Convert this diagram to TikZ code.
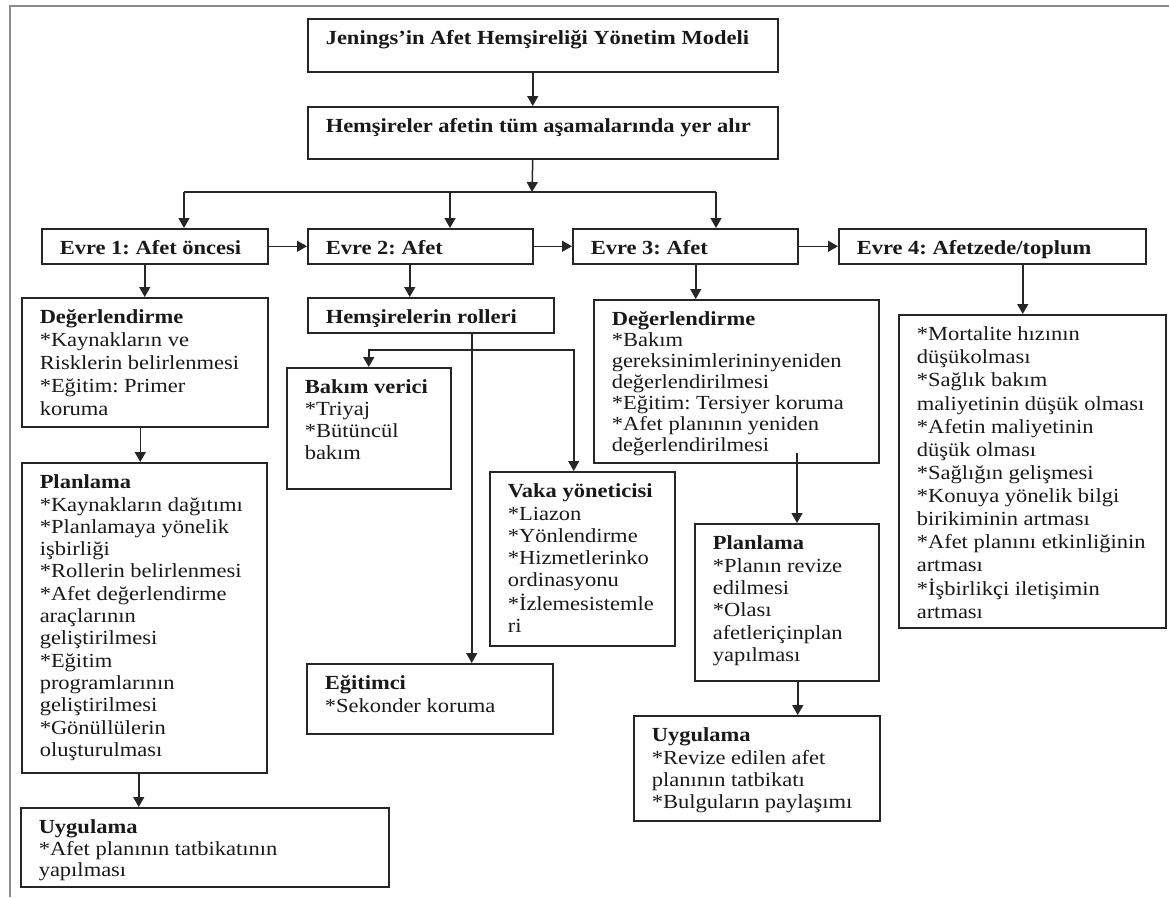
\documentclass[tikz,border=0pt]{standalone}
\usepackage{fontspec}
\setmainfont{Liberation Serif}[FakeStretch=1.125]
\usetikzlibrary{arrows.meta}
\frenchspacing
\newcommand\bul{*}
\newcommand\bxt[4]{\parbox[c][#2pt][t]{#1pt}{\fontsize{20}{#3}\selectfont\frenchspacing\vspace*{\dimexpr 26pt-#3pt*7/10\relax}\hspace*{18pt}\begin{tabular}[t]{@{}l@{}}#4\end{tabular}}}
\tikzset{
  bx/.style={draw=black!85, line width=1.5pt, anchor=north west, inner sep=0pt, text=black!90},
  arr/.style={draw=black!85, line width=1.5pt, -{Triangle[width=11pt,length=10pt]}},
  ln/.style={draw=black!85, line width=1.5pt},
  frame/.style={draw=black!45, line width=2pt}
}
\begin{document}
\begin{tikzpicture}[x=1pt,y=-1pt]
\useasboundingbox (0,0) rectangle (1169,897);
\draw[frame] (1169,6) -- (10,6) -- (10,897);

% top boxes
\node[bx] (title) at (307,18) {\bxt{470}{53}{22.3}{\textbf{Jenings’in Afet Hemşireliği Yönetim Modeli}}};
\node[bx] (box2) at (307,106) {\bxt{470}{52}{22.3}{\textbf{Hemşireler afetin tüm aşamalarında yer alır}}};

% phases
\node[bx] (ev1) at (41,228) {\bxt{226}{35}{22.3}{\textbf{Evre 1: Afet öncesi}}};
\node[bx] (ev2) at (307,228) {\bxt{225}{35}{22.3}{\textbf{Evre 2: Afet}}};
\node[bx] (ev3) at (572,228) {\bxt{225}{35}{22.3}{\textbf{Evre 3: Afet}}};
\node[bx] (ev4) at (838,228) {\bxt{307}{35}{22.3}{\textbf{Evre 4: Afetzede/toplum}}};

% column 1
\node[bx] (d1) at (21,297) {\bxt{246}{129}{23}{\textbf{Değerlendirme}\\ \bul Kaynakların ve\\ Risklerin belirlenmesi\\ \bul Eğitim: Primer\\ koruma}};
\node[bx] (p1) at (21,462) {\bxt{245}{310}{22.3}{\textbf{Planlama}\\ \bul Kaynakların dağıtımı\\ \bul Planlamaya yönelik\\ işbirliği\\ \bul Rollerin belirlenmesi\\ \bul Afet değerlendirme\\ araçlarının\\ geliştirilmesi\\ \bul Eğitim\\ programlarının\\ geliştirilmesi\\ \bul Gönüllülerin\\ oluşturulması}};
\node[bx] (u1) at (20,807) {\bxt{368}{79}{21.5}{\textbf{Uygulama}\\ \bul Afet planının tatbikatının\\ yapılması}};

% column 2
\node[bx] (roles) at (307,297) {\bxt{246}{35}{22.3}{\textbf{Hemşirelerin rolleri}}};
\node[bx] (bv) at (286,367) {\bxt{164}{121}{22}{\textbf{Bakım verici}\\ \bul Triyaj\\ \bul Bütüncül\\ bakım}};
\node[bx] (vy) at (489,471) {\bxt{185}{174}{22.3}{\textbf{Vaka yöneticisi}\\ \bul Liazon\\ \bul Yönlendirme\\ \bul Hizmetlerinko\\ ordinasyonu\\ \bul İzlemesistemle\\ ri}};
\node[bx] (eg) at (306,663) {\bxt{246}{70}{23}{\textbf{Eğitimci}\\ \bul Sekonder koruma}};

% column 3
\node[bx] (d3) at (593,299) {\bxt{285}{163}{21}{\textbf{Değerlendirme}\\ \bul Bakım\\ gereksinimlerininyeniden\\ değerlendirilmesi\\ \bul Eğitim: Tersiyer koruma\\ \bul Afet planının yeniden\\ değerlendirilmesi}};
\node[bx] (p3) at (694,523) {\bxt{184}{157}{22.4}{\textbf{Planlama}\\ \bul Planın revize\\ edilmesi\\ \bul Olası\\ afetleriçinplan\\ yapılması}};
\node[bx] (u3) at (633,715) {\bxt{246}{105}{22.3}{\textbf{Uygulama}\\ \bul Revize edilen afet\\ planının tatbikatı\\ \bul Bulguların paylaşımı}};

% column 4
\node[bx] (out) at (898,314) {\bxt{267}{313}{23.1}{\bul Mortalite hızının\\ düşükolması\\ \bul Sağlık bakım\\ maliyetinin düşük olması\\ \bul Afetin maliyetinin\\ düşük olması\\ \bul Sağlığın gelişmesi\\ \bul Konuya yönelik bilgi\\ birikiminin artması\\ \bul Afet planını etkinliğinin\\ artması\\ \bul İşbirlikçi iletişimin\\ artması}};

% connectors: top
\coordinate (a1) at ([xshift=-10pt]title.south);
\draw[arr] (a1) -- (a1 |- box2.north);
\coordinate (hub) at (532,192);
\coordinate (a2) at ([xshift=-10pt]box2.south);
\draw[arr] (a2) -- (hub);
\coordinate (bl) at (184,192);
\coordinate (bm) at (450,192);
\coordinate (brr) at (716,192);
\draw[ln] (bl) -- (brr);
\draw[arr] (bl) -- (bl |- ev1.north);
\draw[arr] (bm) -- (bm |- ev2.north);
\draw[arr] (brr) -- (brr |- ev3.north);

% phase chain
\draw[arr] (ev1.east) -- (ev2.west);
\draw[arr] (ev2.east) -- (ev3.west);
\draw[arr] (ev3.east) -- (ev4.west);

% phase downs
\draw[arr] (d1.north |- ev1.south) -- (d1.north);
\coordinate (a3) at ([xshift=-10.5pt]ev2.south);
\draw[arr] (a3) -- (a3 |- roles.north);
\coordinate (a4) at ([xshift=10.5pt]ev3.south);
\draw[arr] (a4) -- (a4 |- d3.north);
\coordinate (a5) at ([xshift=-9.5pt]out.north);
\draw[arr] (a5 |- ev4.south) -- (a5);

% column 1
\coordinate (a6) at ([xshift=-4.5pt]d1.south);
\draw[arr] (a6) -- (a6 |- p1.north);
\coordinate (a7) at ([xshift=-5.5pt]p1.south);
\draw[arr] (a7) -- (a7 |- u1.north);

% column 2
\coordinate (a8) at ([xshift=41pt]roles.south);
\draw[arr] (a8) -- (a8 |- eg.north);
\coordinate (jn) at (471,350);
\draw[arr] (jn) -| (bv.north);
\coordinate (a9) at ([xshift=-8.5pt]vy.north);
\draw[arr] (jn) -| (a9);

% column 3
\coordinate (a10) at (797,453);
\draw[arr] (a10) -- (a10 |- p3.north);
\coordinate (a11) at ([xshift=11pt]p3.south);
\draw[arr] (a11) -- (a11 |- u3.north);
\end{tikzpicture}
\end{document}
